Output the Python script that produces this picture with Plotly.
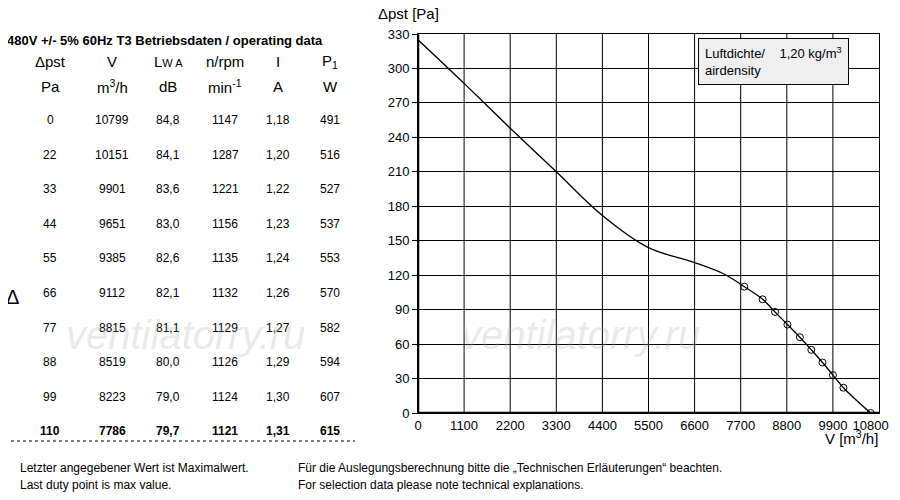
import plotly.graph_objects as go

# operating data table
dp = [0, 22, 33, 44, 55, 66, 77, 88, 99, 110]
flow = [10799, 10151, 9901, 9651, 9385, 9112, 8815, 8519, 8223, 7786]
lwa = ["84,8", "84,1", "83,6", "83,0", "82,6", "82,1", "81,1", "80,0", "79,0", "79,7"]
rpm = [1147, 1287, 1221, 1156, 1135, 1132, 1129, 1126, 1124, 1121]
amps = ["1,18", "1,20", "1,22", "1,23", "1,24", "1,26", "1,27", "1,29", "1,30", "1,31"]
power = [491, 516, 527, 537, 553, 570, 582, 594, 607, 615]

# curve (upper part, before the duty points)
curve_v = [0, 1100, 2200, 3300, 4400, 5500, 6600, 7300, 7786]
curve_p = [325, 287, 248, 210, 172, 144, 131, 121, 110]

xticks = [0, 1100, 2200, 3300, 4400, 5500, 6600, 7700, 8800, 9900, 10800]
xlabels = ["0", "1100", "2200", "3300", "4400", "5500", "6600", "7700", "8800", "9900", "10800"]

# page body has an 8px margin, so the figure is drawn 8px smaller and offset
OFF = 8
W, H = 900 - 2 * OFF, 500 - 2 * OFF
def px(x): return (x - OFF) / W
def py(y): return 1 - (y - OFF) / H

fig = go.Figure()
fig.add_trace(go.Scatter(x=curve_v + flow[::-1][1:], y=curve_p + dp[::-1][1:], mode="lines",
                         line=dict(color="black", width=1.3, shape="spline"), hoverinfo="skip"))
fig.add_trace(go.Scatter(x=flow, y=dp, mode="markers",
                         marker=dict(symbol="circle-open", size=7, color="black", line=dict(width=1))))

f = dict(family="Liberation Sans, Arial", color="black")
ann = []
ann.append(dict(x=px(5), y=py(40), text="<b>480V +/- 5% 60Hz T3 Betriebsdaten / operating data</b>",
                xanchor="left", font=dict(size=13, **f)))
cols = [50, 112, 168, 225, 278, 330]
heads1 = ["Δpst", "V", "L<span style='font-size:11px'>W A</span>", "n/rpm", "I", "P<sub>1</sub>"]
heads2 = ["Pa", "m<sup>3</sup>/h", "dB", "min<sup>-1</sup>", "A", "W"]
for cx, h1, h2 in zip(cols, heads1, heads2):
    ann.append(dict(x=px(cx), y=py(62), text=h1, font=dict(size=15, **f)))
    ann.append(dict(x=px(cx), y=py(86), text=h2, font=dict(size=15, **f)))
for i in range(len(dp)):
    row = [str(dp[i]), str(flow[i]), lwa[i], str(rpm[i]), amps[i], str(power[i])]
    yy = 120 + i * 34.6
    for cx, t in zip(cols, row):
        if i == len(dp) - 1:
            t = "<b>" + t + "</b>"
        ann.append(dict(x=px(cx), y=py(yy), text=t, font=dict(size=12, **f)))
ann.append(dict(x=px(12), y=py(297), text="Δ", font=dict(size=20, **f)))
for wx in (185, 580):
    ann.append(dict(x=px(wx), y=py(335), text="<i>ventilatorry.ru</i>",
                    font=dict(size=40, family="Liberation Sans", color="rgba(170,170,170,0.25)")))
ann.append(dict(x=px(18), y=py(468), text="Letzter angegebener Wert ist Maximalwert.", xanchor="left", font=dict(size=12, **f)))
ann.append(dict(x=px(18), y=py(485), text="Last duty point is max value.", xanchor="left", font=dict(size=12, **f)))
ann.append(dict(x=px(296), y=py(468), text="Für die Auslegungsberechnung bitte die „Technischen Erläuterungen“ beachten.", xanchor="left", font=dict(size=12, **f)))
ann.append(dict(x=px(296), y=py(485), text="For selection data please note technical explanations.", xanchor="left", font=dict(size=12, **f)))
ann.append(dict(x=px(376), y=py(14), text="Δpst [Pa]", xanchor="left", font=dict(size=15, **f)))
ann.append(dict(x=px(880), y=py(437), text="V [m<sup>3</sup>/h]", xanchor="right", font=dict(size=15, **f)))
ann.append(dict(x=px(698), y=py(62), text="Luftdichte/    1,20 kg/m<sup>3</sup><br>airdensity", xanchor="left", align="left",
                font=dict(size=13, **f), bgcolor="#efefef", bordercolor="black", borderwidth=1, borderpad=6))
for a in ann:
    a.update(xref="paper", yref="paper", showarrow=False)
    a.setdefault("xanchor", "center")
    a.setdefault("yanchor", "middle")

fig.update_layout(
    width=W, height=H, margin=dict(l=0, r=0, t=0, b=0, autoexpand=False),
    plot_bgcolor="white", paper_bgcolor="white", showlegend=False,
    annotations=ann,
    shapes=[dict(type="line", xref="paper", yref="paper", x0=px(5), x1=px(355), y0=py(441), y1=py(441),
                 line=dict(color="black", width=1, dash="dot"))],
    xaxis=dict(domain=[px(418), px(879)], range=[0, 11000], tickvals=xticks, ticktext=xlabels, automargin=False,
               showgrid=False, zeroline=False,
               showline=True, linecolor="black", mirror=True, ticks="", tickfont=dict(size=13, **f)),
    yaxis=dict(domain=[py(413), py(34)], range=[0, 330], dtick=30, automargin=False,
               showgrid=True, gridcolor="black", gridwidth=1, zeroline=False,
               showline=True, linecolor="black", mirror=True, ticks="outside", ticklen=5, tickcolor="black",
               tickfont=dict(size=13, **f)),
)
# vertical grid every 1100 m3/h (labels sit at 10800 for the last one)
for gx in range(1100, 11000, 1100):
    fig.add_shape(type="line", xref="x", yref="y", x0=gx, x1=gx, y0=0, y1=330, line=dict(color="black", width=1))
fig.add_shape(type="line", xref="x", yref="y", x0=0, x1=0, y0=0, y1=330, line=dict(color="black", width=2.5))
fig.add_shape(type="line", xref="x", yref="y", x0=0, x1=11000, y0=0, y1=0, line=dict(color="black", width=2.5))
fig.write_html("out.html")
